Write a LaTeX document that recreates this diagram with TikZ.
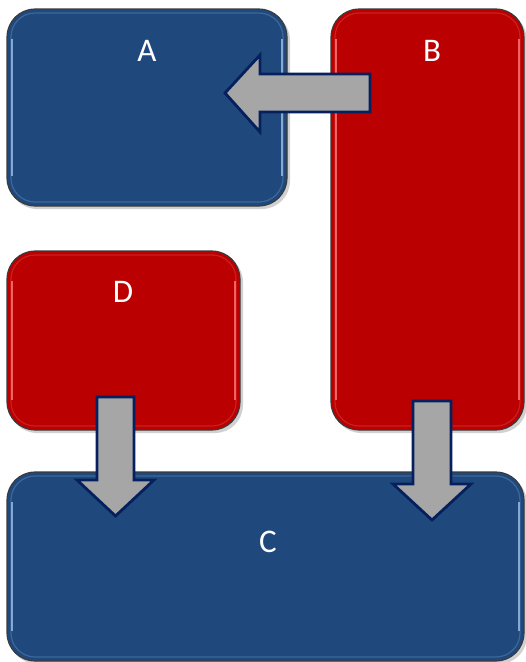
\documentclass[tikz,border=0pt]{standalone}
\usepackage{fontspec}
\setmainfont{Carlito}
\begin{document}
\begin{tikzpicture}[x=1pt,y=-1pt,
  boxbase/.style={rounded corners=28pt, draw=boxedge, line width=1.1pt, inner sep=0pt, outer sep=0pt},
  bluebox/.style={boxbase, fill=boxblue},
  redbox/.style={boxbase, fill=boxred},
  lbl/.style={anchor=base, text=white, font=\fontsize{33}{40}\selectfont, inner sep=0pt},
  blockarrow/.style={fill=arrowgray, draw=arrownavy, line width=2.8pt, line join=miter},
  shadowstyle/.style={fill=black, opacity=0.18, rounded corners=28pt}
]
\definecolor{boxblue}{HTML}{1F497D}
\definecolor{boxred}{HTML}{BA0000}
\definecolor{boxedge}{HTML}{3A3A3A}
\definecolor{bluehi}{HTML}{9DBFE8}
\definecolor{redhi}{HTML}{FF7A7A}
\definecolor{arrowgray}{HTML}{A6A6A6}
\definecolor{arrownavy}{HTML}{06205E}
\useasboundingbox (0,0) rectangle (526,662);
% shadows
\fill[shadowstyle] (9,12) rectangle (290,209);
\fill[shadowstyle] (333,12) rectangle (527,433);
\fill[shadowstyle] (9,254) rectangle (243,433);
\fill[shadowstyle] (9,475) rectangle (527,664);
% boxes
\node[bluebox, minimum width=280pt, minimum height=197pt] (A) at (147,107.5) {};
\node[redbox, minimum width=193pt, minimum height=421pt] (B) at (427.5,219.5) {};
\node[redbox, minimum width=233pt, minimum height=179pt] (D) at (123.5,340.5) {};
\node[bluebox, minimum width=517pt, minimum height=189pt] (C) at (265.5,566.5) {};
% bevel highlights
\foreach \n/\h in {A/bluehi,B/redhi,D/redhi,C/bluehi}{
  \draw[\h, line width=1.2pt, opacity=0.25, rounded corners=24pt]
    ([shift={(4,4)}]\n.north west) rectangle ([shift={(-4,-4)}]\n.south east);
  \draw[\h, line width=1.6pt, opacity=0.8]
    ([shift={(5,30)}]\n.north west) -- ([shift={(5,-30)}]\n.south west);
  \draw[\h, line width=1.6pt, opacity=0.8]
    ([shift={(-5,30)}]\n.north east) -- ([shift={(-5,-30)}]\n.south east);
}
% labels
\node[lbl] (Alabel) at (147,61) {A};
\node[lbl] (Blabel) at (432,61) {B};
\node[lbl] (Dlabel) at (123,302) {D};
\node[lbl] (Clabel) at (268,552) {C};
% block arrows
\coordinate (BtoA) at (225,93);
\coordinate (DtoC) at (115.5,516);
\coordinate (BtoC) at (432,520);
\draw[blockarrow] (370,74) -- (260,74) -- (260,55) -- (BtoA) -- (260,132) -- (260,112) -- (370,112) -- cycle;
\draw[blockarrow] (97,397) -- (134,397) -- (134,480) -- (154,480) -- (DtoC) -- (77,480) -- (97,480) -- cycle;
\draw[blockarrow] (413,401) -- (451,401) -- (451,484) -- (471,484) -- (BtoC) -- (393,484) -- (413,484) -- cycle;
\end{tikzpicture}
\end{document}
